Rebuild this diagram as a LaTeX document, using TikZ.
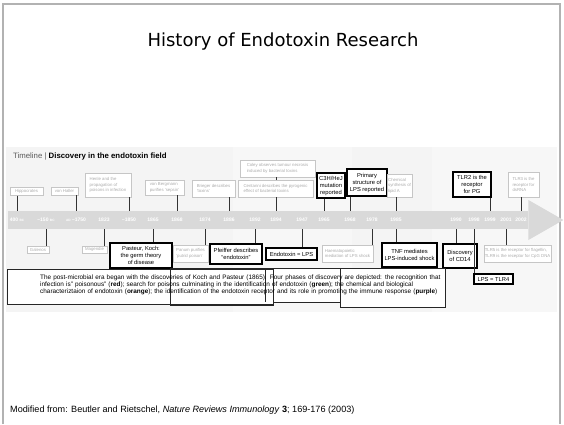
\documentclass[tikz,border=0pt]{standalone}
\usepackage{fontspec}
\setmainfont{Liberation Sans}
\newfontfamily\titlefont{DejaVu Sans}

\begin{document}
\begin{tikzpicture}[
		x = 1pt, y = -1pt, % pixel units, y runs down
		light/.style = {draw=gray!45, fill=white, text=gray!65, inner sep=1pt,
			align=left, font=\fontsize{4.3}{5.4}\selectfont},
		bold/.style = {draw=black, line width=1.1pt, fill=white, text=black, inner sep=1pt,
			align=center, font=\fontsize{5.8}{7}\selectfont},
		year/.style = {text=white, inner sep=0pt, font=\bfseries\fontsize{5}{6}\selectfont},
		conn/.style = {draw=black!80, line width=0.7pt},
		legendbox/.style = {draw=black!85, fill=white, line width=0.6pt}
		]
		
		\useasboundingbox (0,0) rectangle (564,424);
		\draw[gray!60, line width=1.2pt] (3,424) -- (3,4) -- (560,4) -- (560,424);
		
		\node (title) at (283,42) {\titlefont\fontsize{18}{20}\selectfont History of Endotoxin Research};
		
		% panel with the four eras
		\fill[gray!9] (6,147) rectangle (233,312);
		\fill[gray!6] (233,147) rectangle (352,312);
		\fill[gray!9] (352,147) rectangle (432,312);
		\fill[gray!6] (432,147) rectangle (557,312);
		
		\node[anchor=west, inner sep=0pt, font=\fontsize{7.8}{8}\selectfont] (head) at (13,156)
		{\textcolor{gray!70!black}{Timeline |} \textbf{Discovery in the endotoxin field}};
		
		% time band
		\node[fill=gray!30, minimum width=520, minimum height=18, inner sep=0pt, anchor=west] (band) at (8,220) {};
		\fill[gray!30] (band.east) ++(0,-20) -- ++(35,20) -- ++(-35,20) -- cycle;
		
		\node[year] (y400) at (17,220) {400 {\fontsize{3.2}{3}\selectfont BC}};
		\node[year] (y150) at (46,220) {\textendash150 {\fontsize{3.2}{3}\selectfont BC}};
		\node[year] (y1750) at (76,220) {{\fontsize{3.2}{3}\selectfont AD} \textendash1750};
		\node[year] (y1823) at (104,220) {1823};
		\node[year] (y1850) at (129,220) {\textasciitilde1850};
		\node[year] (y1865) at (153,220) {1865};
		\node[year] (y1868) at (177,220) {1868};
		\node[year] (y1874) at (205,220) {1874};
		\node[year] (y1886) at (229,220) {1886};
		\node[year] (y1892) at (255,220) {1892};
		\node[year] (y1894) at (276,220) {1894};
		\node[year] (y1947) at (302,220) {1947};
		\node[year] (y1965) at (324,220) {1965};
		\node[year] (y1968) at (350,220) {1968};
		\node[year] (y1978) at (372,220) {1978};
		\node[year] (y1985) at (396,220) {1985};
		\node[year] (y1990) at (456,220) {1990};
		\node[year] (y1998) at (474,220) {1998};
		\node[year] (y1999) at (490,220) {1999};
		\node[year] (y2001) at (506,220) {2001};
		\node[year] (y2002) at (521,220) {2002};
		
		% events above the band
		\node[light, minimum width=33, minimum height=8] (hipp) at (26.5,191.5) {Hippocrates};
		\node[light, minimum width=27, minimum height=8] (haller) at (64.5,191) {von Haller};
		\node[light, minimum width=46, minimum height=24] (henle) at (108,185) {Henle and the\\propagation of\\poisons in infection};
		\node[light, minimum width=39, minimum height=15] (bergm) at (164.5,187.5) {von Bergmann\\purifies `sepsin'};
		\node[light, minimum width=43, minimum height=17] (brieg) at (213.5,188.5) {Brieger describes\\`toxins'};
		\node[light, minimum width=75, minimum height=17] (centa) at (275.5,188.5) {Centanni describes the pyrogenic\\effect of bacterial toxins};
		\node[light, minimum width=75, minimum height=17] (coley) at (277.5,168.5) {Coley observes tumour necrosis\\induced by bacterial toxins};
		\node[bold, minimum width=28, minimum height=25] (c3h) at (331,185.5) {C3H/HeJ\\mutation\\reported};
		\node[bold, minimum width=40, minimum height=27] (prim) at (367,182.5) {Primary\\structure of\\LPS reported};
		\node[light, minimum width=19, minimum height=23] (chem) at (399.5,185.5) {Chemical\\synthesis of\\lipid A};
		\node[bold, minimum width=38, minimum height=25] (tlr2) at (472,184.5) {TLR2 is the\\receptor\\for PG};
		\node[light, minimum width=31, minimum height=25] (tlr3) at (523.5,184.5) {TLR3 is the\\receptor for\\dsRNA};
		
		% events below the band
		\node[light, minimum width=22, minimum height=7] (galen) at (38,249.5) {Galenos};
		\node[light, minimum width=25, minimum height=7] (magen) at (94.5,249.5) {Magendie};
		\node[bold, minimum width=62, minimum height=25] (paste) at (141,255.5) {Pasteur, Koch:\\the germ theory\\of disease};
		\node[light, minimum width=35, minimum height=17] (panum) at (190.5,253.5) {Panum purifies\\`putrid poison'};
		\node[bold, minimum width=52, minimum height=20] (pfeif) at (236,254) {Pfeiffer describes\\``endotoxin''};
		\node[bold, minimum width=51, minimum height=12] (elps) at (291.5,254) {Endotoxin = LPS};
		\node[light, minimum width=51, minimum height=17] (haema) at (347.5,253.5) {Haematopoietic\\mediation of LPS shock};
		\node[bold, minimum width=55, minimum height=24] (tnf) at (409.5,255) {TNF mediates\\LPS-induced shock};
		\node[bold, minimum width=34, minimum height=24] (cd14) at (460,256) {Discovery\\of CD14};
		\node[bold, minimum width=39, minimum height=10] (tlr4) at (493.5,279) {LPS = TLR4};
		\node[light, minimum width=65, minimum height=17] (tlr59) at (517.5,253.5) {TLR5 is the receptor for flagellin,\\TLR9 is the receptor for CpG DNA};
		
		% connectors to the band
		\draw[conn] (hipp.south -| y400) -- (y400 |- band.north);
		\draw[conn] (haller.south -| y1750) -- (y1750 |- band.north);
		\draw[conn] (henle.south -| y1850) -- (y1850 |- band.north);
		\draw[conn] (bergm.south -| y1868) -- (y1868 |- band.north);
		\draw[conn] (brieg.south -| y1886) -- (y1886 |- band.north);
		\draw[conn] (centa.south -| y1894) -- (y1894 |- band.north);
		\draw[conn] (coley.south -| y1894) -- (centa.north -| y1894);
		\draw[conn] (c3h.south -| y1965) -- (y1965 |- band.north);
		\draw[conn] (prim.south -| y1968) -- (y1968 |- band.north);
		\draw[conn] (chem.south -| y1985) -- (y1985 |- band.north);
		\draw[conn] (tlr2.south -| y1999) -- (y1999 |- band.north);
		\draw[conn] (tlr3.south -| y2002) -- (y2002 |- band.north);
		
		\draw[conn] (y150 |- band.south) -- (galen.north -| y150);
		\draw[conn] (y1823 |- band.south) -- (magen.north -| y1823);
		\draw[conn] (y1865 |- band.south) -- (paste.north -| y1865);
		\draw[conn] (y1874 |- band.south) -- (panum.north -| y1874);
		\draw[conn] (y1892 |- band.south) -- (pfeif.north -| y1892);
		\draw[conn] (y1947 |- band.south) -- (elps.north -| y1947);
		\draw[conn] (y1978 |- band.south) -- (haema.north -| y1978);
		\draw[conn] (y1985 |- band.south) -- (tnf.north -| y1985);
		\draw[conn] (y1990 |- band.south) -- (cd14.north -| y1990);
		\draw[conn] (y1998 |- band.south) -- (tlr4.north -| y1998);
		\draw[conn] (y2001 |- band.south) -- (tlr59.north -| y2001);
		
		% legend boxes
		\draw[legendbox] (340,268) rectangle (445,307);
		\draw[legendbox] (265,268) rectangle (340,302);
		\draw[legendbox] (170,268) rectangle (273,305);
		\draw[legendbox] (7,269) rectangle (273,304);
		\draw[legendbox, fill=none] (170,268) -- (170,305);
		\draw[legendbox, fill=none] (265,268) -- (265,302);
		\node[anchor=north west, inner sep=0pt, text width=460, align=left,
		font=\fontsize{6.4}{7}\selectfont] (legend) at (40,275)
		{The post-microbial era began with the discoveries of Koch and Pasteur (1865). Four phases of discovery are depicted: the recognition that\\
			infection is" poisonous" (\textbf{red}); search for poisons culminating in the identification of endotoxin (\textbf{green}); the chemical and biological\\
			characteriztaion of endotoxin (\textbf{orange}); the identification of the endotoxin receptor and its role in promoting the immune response (\textbf{purple})};
		
		\node[anchor=west, inner sep=0pt, font=\fontsize{9.1}{10}\selectfont] (source) at (10,410)
		{Modified from: Beutler and Rietschel, \textit{Nature Reviews Immunology} \textbf{3}; 169-176 (2003)};
	\end{tikzpicture}
\end{document}
